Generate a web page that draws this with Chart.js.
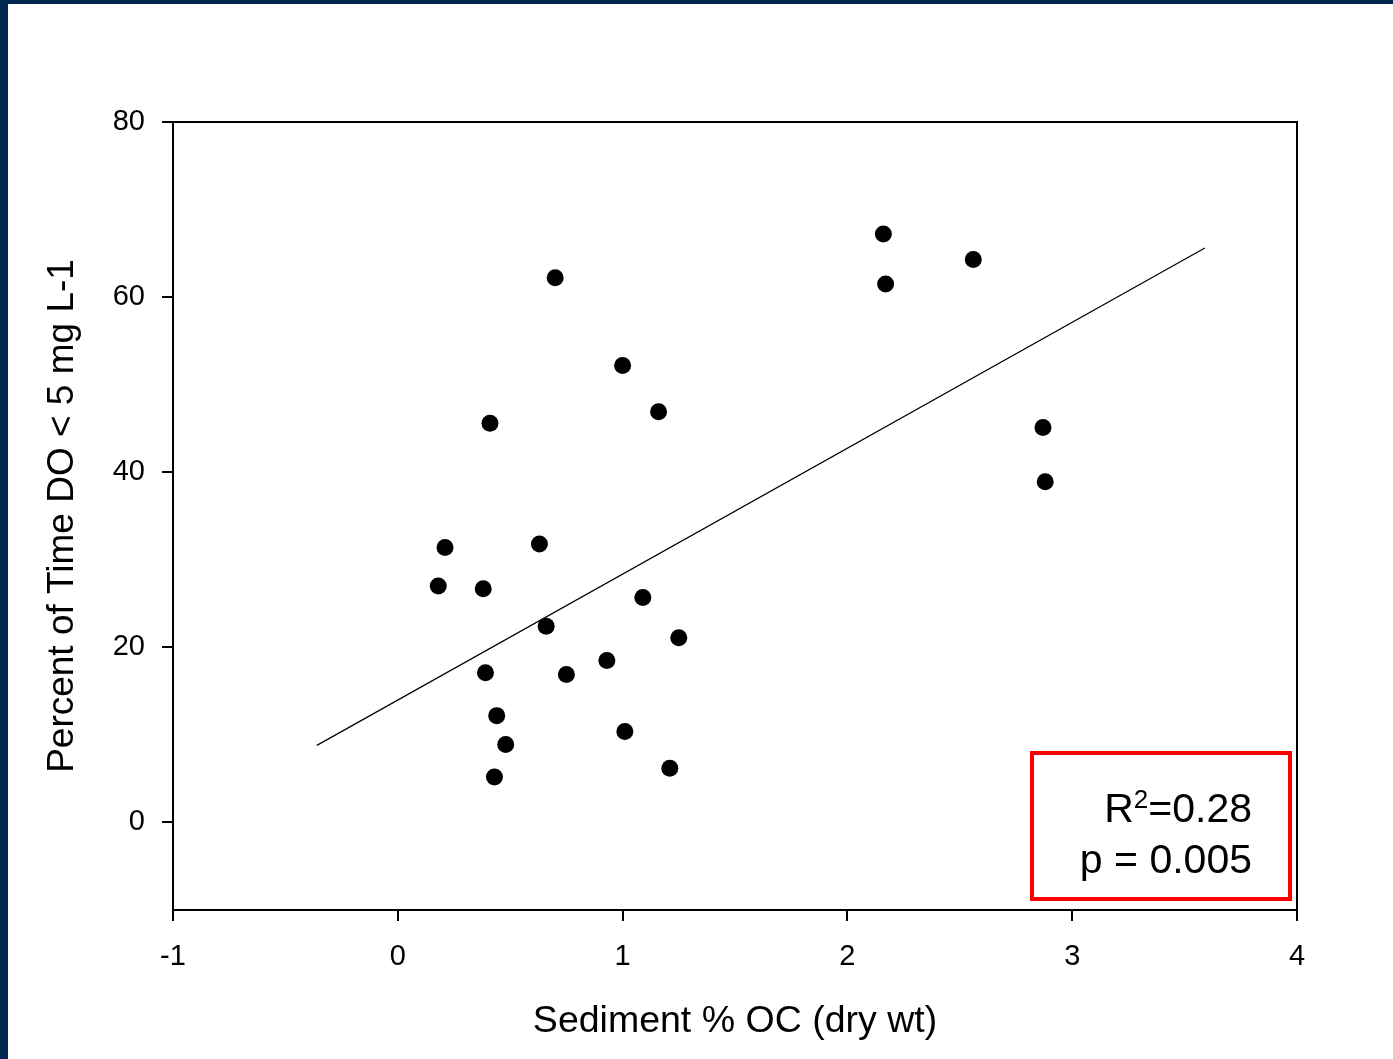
<!DOCTYPE html>
<html>
<head>
<meta charset="utf-8">
<script src="https://cdn.jsdelivr.net/npm/chart.js@4.4.1/dist/chart.umd.min.js"></script>
<style>
    html, body { margin: 0; padding: 0; background: #fff; }
    #frame {
        position: absolute; left: 0; top: 0;
        width: 1393px; height: 1059px; box-sizing: border-box;
        border-left: 8px solid #002850; border-top: 4px solid #002850;
    }
    #wrap { position: absolute; left: 0; top: 0; width: 1393px; height: 1059px; }
</style>
</head>
<body>
<div id="frame"></div>
<div id="wrap"><canvas id="scatter" width="1393" height="1059"></canvas></div>
<script>
// 散布図データ (Sediment % OC vs. Percent of time DO < 5 mg/L)
const ocValues = [2.16, 2.17, 2.56, 2.87, 2.88, 0.70, 1.00, 1.16, 0.41, 0.21, 0.18, 0.38,
                  0.63, 0.66, 1.09, 1.25, 0.39, 0.75, 0.93, 0.44, 0.48, 0.43, 1.01, 1.21];
const doValues = [67.2, 61.5, 64.3, 45.1, 38.9, 62.2, 52.2, 46.9, 45.6, 31.4, 27.0, 26.7,
                  31.8, 22.4, 25.7, 21.1, 17.1, 16.9, 18.5, 12.2, 8.9, 5.2, 10.4, 6.2];

// 回帰直線の端点
const fitX = [-0.36, 3.59];
const fitY = [8.8, 65.6];

// 目盛り
const xTickValues = [-1, 0, 1, 2, 3, 4];
const yTickValues = [0, 20, 40, 60, 80];

const statLines = ['0.28', '0.005'];

const FONT = "Arial, 'Liberation Sans', sans-serif";

// プロット枠
const frameBoxPlugin = {
    id: 'frameBox',
    afterDatasetsDraw(chart) {
        const { ctx, chartArea } = chart;
        ctx.save();
        ctx.strokeStyle = '#000';
        ctx.lineWidth = 2;
        ctx.strokeRect(chartArea.left, chartArea.top,
            chartArea.right - chartArea.left, chartArea.bottom - chartArea.top);
        ctx.restore();
    }
};

// R² / p 値ボックス
const statsBoxPlugin = {
    id: 'statsBox',
    afterDraw(chart) {
        const { ctx, chartArea } = chart;
        const right = chartArea.right - 7;
        const bottom = chartArea.bottom - 11;
        const w = 258, h = 146;
        ctx.save();
        ctx.strokeStyle = '#ff0000';
        ctx.lineWidth = 4;
        ctx.strokeRect(right - w, bottom - h, w, h);

        const tx = right - 38;
        ctx.fillStyle = '#000';
        ctx.textAlign = 'right';
        ctx.textBaseline = 'alphabetic';

        ctx.font = '41px ' + FONT;
        const eqText = '=' + statLines[0];
        const eqW = ctx.measureText(eqText).width;
        ctx.fillText(eqText, tx, bottom - 77);
        ctx.font = '26px ' + FONT;
        const supW = ctx.measureText('2').width;
        ctx.fillText('2', tx - eqW, bottom - 91);
        ctx.font = '41px ' + FONT;
        ctx.fillText('R', tx - eqW - supW, bottom - 77);

        ctx.fillText('p = ' + statLines[1], tx, bottom - 26);
        ctx.restore();
    }
};

const points = ocValues.map((x, i) => ({ x: x, y: doValues[i] }));
const fitLine = fitX.map((x, i) => ({ x: x, y: fitY[i] }));

const axisGrid = {
    display: true,
    drawOnChartArea: false,
    drawTicks: true,
    tickLength: 11,
    color: '#000',
    lineWidth: 2
};

new Chart(document.getElementById('scatter'), {
    type: 'scatter',
    data: {
        datasets: [
            {
                label: 'Sites',
                data: points,
                backgroundColor: '#000',
                borderColor: '#000',
                pointRadius: 8.5,
                pointBorderWidth: 0
            },
            {
                type: 'line',
                label: 'Fit',
                data: fitLine,
                borderColor: '#000',
                borderWidth: 1.2,
                pointRadius: 0,
                fill: false,
                tension: 0
            }
        ]
    },
    options: {
        responsive: false,
        animation: false,
        layout: { padding: { left: 0, top: 122, right: 96, bottom: 0 } },
        plugins: {
            legend: { display: false },
            tooltip: { enabled: false }
        },
        scales: {
            x: {
                type: 'linear',
                min: -1,
                max: 4,
                afterBuildTicks: (scale) => { scale.ticks = xTickValues.map(v => ({ value: v })); },
                afterFit: (scale) => { scale.height = 149; },
                grid: axisGrid,
                border: { display: true, color: '#000', width: 2 },
                ticks: {
                    color: '#000',
                    padding: 19,
                    font: { family: FONT, size: 29 }
                },
                title: {
                    display: true,
                    text: 'Sediment % OC (dry wt)',
                    color: '#000',
                    font: { family: FONT, size: 37.5 },
                    padding: { top: 0, bottom: 15 }
                }
            },
            y: {
                type: 'linear',
                min: -10,
                max: 80,
                afterBuildTicks: (scale) => { scale.ticks = yTickValues.map(v => ({ value: v })); },
                afterFit: (scale) => { scale.width = 173; },
                grid: axisGrid,
                border: { display: true, color: '#000', width: 2 },
                ticks: {
                    color: '#000',
                    padding: 17,
                    font: { family: FONT, size: 29 }
                },
                title: {
                    display: true,
                    text: 'Percent of Time DO < 5 mg L-1',
                    color: '#000',
                    font: { family: FONT, size: 37 },
                    padding: { top: 41, bottom: 0 }
                }
            }
        }
    },
    plugins: [frameBoxPlugin, statsBoxPlugin]
});
</script>
</body>
</html>
